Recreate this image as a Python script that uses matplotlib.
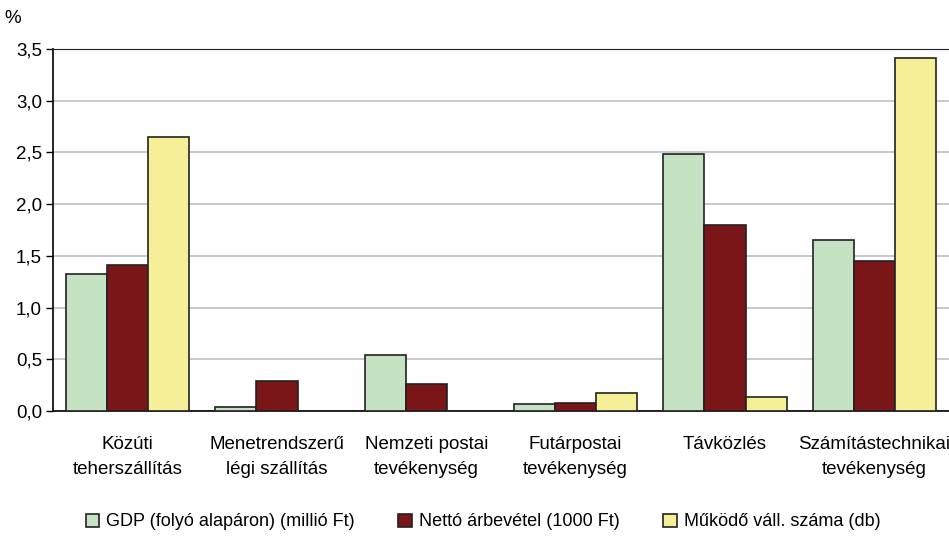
import matplotlib
matplotlib.use("Agg")
import matplotlib.pyplot as plt
import numpy as np
from matplotlib.ticker import FuncFormatter

categories = ["Közúti\nteherszállítás", "Menetrendszerű\nlégi szállítás", "Nemzeti postai\ntevékenység",
              "Futárpostai\ntevékenység", "Távközlés", "Számítástechnikai\ntevékenység"]
series_names = ["GDP (folyó alapáron) (millió Ft)", "Nettó árbevétel (1000 Ft)", "Működő váll. száma (db)"]
gdp = [1.32, 0.04, 0.54, 0.07, 2.48, 1.65]
netto = [1.41, 0.29, 0.26, 0.08, 1.80, 1.45]
mukodo = [2.65, 0.0, 0.0, 0.17, 0.14, 3.41]
colors = ["#c5e3c3", "#7a1518", "#f5f097"]
yticks = [0.0, 0.5, 1.0, 1.5, 2.0, 2.5, 3.0, 3.5]

plt.rcParams['font.family'] = ['Liberation Sans', 'DejaVu Sans']
fig = plt.figure(figsize=(9.49, 5.37), dpi=100)
ax = fig.add_axes([53/949, 1-411/537, 896/949, 362/537])

x = np.arange(len(categories))
w = 0.275
for i, (vals, c, name) in enumerate(zip([gdp, netto, mukodo], colors, series_names)):
    ax.bar(x + (i-1)*w, vals, width=w, color=c, edgecolor="#222222", linewidth=1.2, label=name, zorder=3)

ax.set_xlim(-0.5, len(categories)-0.5)
ax.set_ylim(0, 3.5)
ax.set_yticks(yticks)
ax.yaxis.set_major_formatter(FuncFormatter(lambda v, p: f"{v:.1f}".replace('.', ',')))
ax.grid(axis='y', color='#c0c0c0', linewidth=1.2, zorder=0)
ax.set_axisbelow(True)
ax.spines['right'].set_visible(False)
ax.spines['top'].set_color('#222222')
ax.spines['left'].set_linewidth(1.2)
ax.spines['bottom'].set_linewidth(1.2)
ax.set_xticks(x)
ax.set_xticklabels(categories, fontsize=13.5, linespacing=1.65)
ax.tick_params(axis='x', length=0, pad=18)
ax.tick_params(axis='y', labelsize=13.5, length=5, width=1, direction='out', pad=3)
ax.text(-0.045, 1.06, "%", transform=ax.transAxes, fontsize=13.5, ha='center', va='bottom')

ax.legend(loc='lower center', bbox_to_anchor=(0.48, -0.375), ncol=3, frameon=False, fontsize=13,
          handlelength=0.75, handleheight=0.75, columnspacing=2.4, handletextpad=0.4)

fig.savefig("out.png", dpi=100)
